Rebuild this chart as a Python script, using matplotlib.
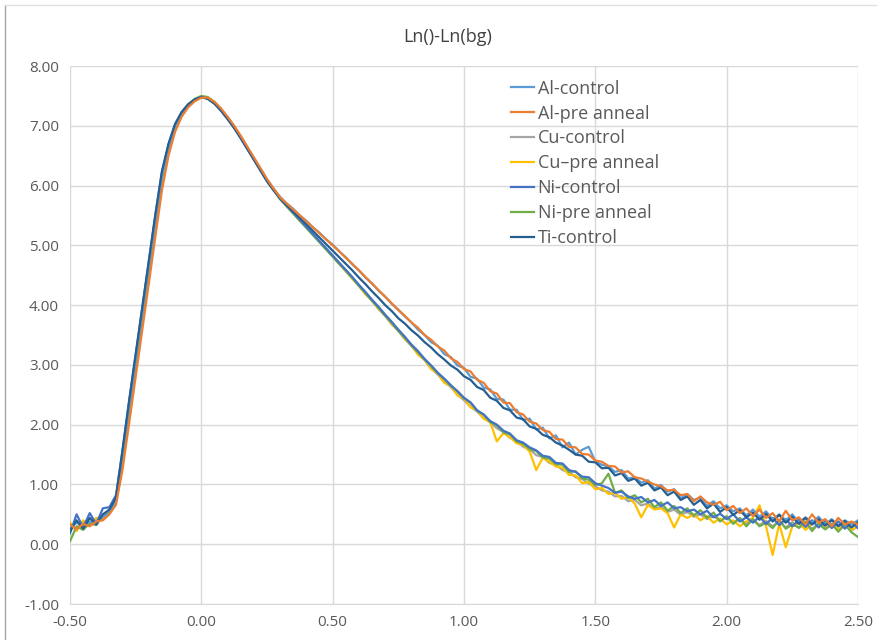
import numpy as np
import matplotlib
matplotlib.use("Agg")
from matplotlib import pyplot as plt
from matplotlib.lines import Line2D

# x grid of the export (step 0.025 from -0.50 to 2.50)
x = np.linspace(-0.5, 2.5, 121)

al_control = [
    0.28, 0.36, 0.30, 0.38, 0.36, 0.46, 0.52, 0.75,
    1.50, 2.30, 3.08, 3.86, 4.64, 5.42, 6.15, 6.64, 6.99, 7.21, 7.35, 7.43,
    7.48, 7.46, 7.38, 7.27, 7.14, 6.99, 6.82, 6.64, 6.46, 6.28, 6.10, 5.95,
    5.81, 5.70, 5.61, 5.50, 5.41, 5.30, 5.21, 5.10, 5.01, 4.90, 4.80, 4.68,
    4.58, 4.46, 4.36, 4.24, 4.14, 4.02, 3.92, 3.81, 3.71, 3.59, 3.50, 3.38,
    3.32, 3.18, 3.13, 2.99, 2.95, 2.80, 2.77, 2.62, 2.59, 2.43, 2.42, 2.25,
    2.25, 2.08, 2.10, 1.92, 1.95, 1.77, 1.82, 1.62, 1.70, 1.50, 1.58, 1.63,
    1.38, 1.33, 1.30, 1.21, 1.24, 1.10, 1.12, 1.03, 1.07, 0.93, 0.99, 0.88,
    0.92, 0.77, 0.84, 0.74, 0.78, 0.64, 0.72, 0.60, 0.65, 0.55, 0.60, 0.48,
    0.58, 0.46, 0.55, 0.41, 0.50, 0.40, 0.50, 0.36, 0.45, 0.36, 0.46, 0.33,
    0.42, 0.31, 0.40, 0.33, 0.40,
]
al_pre = [
    0.33, 0.25, 0.34, 0.30, 0.38, 0.40, 0.50, 0.66,
    1.25, 2.02, 2.80, 3.58, 4.36, 5.15, 5.92, 6.50, 6.90, 7.15, 7.31, 7.41,
    7.47, 7.47, 7.40, 7.29, 7.15, 7.00, 6.83, 6.65, 6.47, 6.29, 6.11, 5.95,
    5.80, 5.70, 5.60, 5.50, 5.40, 5.30, 5.20, 5.10, 5.00, 4.90, 4.79, 4.69,
    4.58, 4.47, 4.36, 4.25, 4.14, 4.03, 3.92, 3.82, 3.71, 3.62, 3.50, 3.42,
    3.31, 3.24, 3.11, 3.05, 2.93, 2.89, 2.75, 2.70, 2.56, 2.52, 2.37, 2.36,
    2.21, 2.17, 2.05, 2.02, 1.91, 1.88, 1.76, 1.75, 1.63, 1.62, 1.51, 1.50,
    1.40, 1.38, 1.31, 1.30, 1.20, 1.22, 1.12, 1.10, 1.05, 1.00, 0.97, 0.90,
    0.91, 0.82, 0.84, 0.72, 0.80, 0.70, 0.66, 0.71, 0.57, 0.64, 0.52, 0.60,
    0.47, 0.58, 0.44, 0.52, 0.38, 0.56, 0.40, 0.45, 0.33, 0.50, 0.36, 0.42,
    0.30, 0.44, 0.33, 0.38, 0.33,
]
cu_control = [
    0.30, 0.27, 0.38, 0.33, 0.42, 0.44, 0.56, 0.74,
    1.44, 2.24, 3.02, 3.80, 4.58, 5.37, 6.11, 6.62, 6.98, 7.20, 7.34, 7.43,
    7.48, 7.46, 7.38, 7.26, 7.12, 6.97, 6.80, 6.62, 6.44, 6.26, 6.08, 5.93,
    5.78, 5.66, 5.54, 5.42, 5.30, 5.18, 5.06, 4.94, 4.82, 4.69, 4.58, 4.45,
    4.32, 4.19, 4.07, 3.94, 3.82, 3.68, 3.57, 3.43, 3.32, 3.18, 3.08, 2.94,
    2.84, 2.71, 2.63, 2.50, 2.41, 2.30, 2.22, 2.11, 2.04, 1.94, 1.88, 1.78,
    1.73, 1.63, 1.59, 1.49, 1.46, 1.36, 1.33, 1.24, 1.21, 1.12, 1.09, 1.01,
    0.97, 0.90, 0.88, 0.80, 0.81, 0.72, 0.74, 0.65, 0.68, 0.59, 0.63, 0.54,
    0.58, 0.49, 0.54, 0.46, 0.50, 0.42, 0.47, 0.39, 0.45, 0.36, 0.43, 0.34,
    0.41, 0.32, 0.39, 0.30, 0.38, 0.28, 0.37, 0.27, 0.35, 0.26, 0.34, 0.25,
    0.33, 0.24, 0.32, 0.23, 0.30,
]
cu_pre = [
    0.36, 0.22, 0.40, 0.31, 0.44, 0.42, 0.58, 0.77,
    1.46, 2.26, 3.04, 3.82, 4.60, 5.38, 6.12, 6.62, 6.98, 7.20, 7.34, 7.43,
    7.48, 7.46, 7.38, 7.27, 7.13, 6.98, 6.81, 6.63, 6.45, 6.27, 6.09, 5.93,
    5.78, 5.66, 5.54, 5.42, 5.30, 5.18, 5.06, 4.94, 4.82, 4.69, 4.57, 4.44,
    4.33, 4.18, 4.08, 3.93, 3.83, 3.68, 3.58, 3.43, 3.33, 3.17, 3.09, 2.93,
    2.86, 2.70, 2.65, 2.49, 2.44, 2.29, 2.24, 2.10, 2.04, 1.72, 1.86, 1.79,
    1.69, 1.66, 1.55, 1.24, 1.45, 1.38, 1.30, 1.28, 1.16, 1.15, 1.02, 1.04,
    0.92, 0.94, 0.84, 0.86, 0.76, 0.79, 0.68, 0.45, 0.66, 0.58, 0.60, 0.52,
    0.28, 0.50, 0.44, 0.50, 0.40, 0.47, 0.36, 0.43, 0.33, 0.40, 0.30, 0.38,
    0.44, 0.65, 0.30, -0.18, 0.34, -0.05, 0.30, 0.36, 0.24, 0.34, 0.40, 0.26,
    0.33, 0.25, 0.35, 0.24, 0.30,
]
ni_control = [
    0.18, 0.50, 0.28, 0.52, 0.34, 0.60, 0.62, 0.82,
    1.56, 2.38, 3.16, 3.94, 4.72, 5.50, 6.22, 6.68, 7.02, 7.22, 7.35, 7.44,
    7.48, 7.45, 7.37, 7.26, 7.12, 6.97, 6.80, 6.62, 6.44, 6.26, 6.08, 5.93,
    5.79, 5.67, 5.55, 5.43, 5.31, 5.19, 5.07, 4.95, 4.83, 4.71, 4.59, 4.47,
    4.34, 4.22, 4.09, 3.97, 3.84, 3.72, 3.59, 3.47, 3.34, 3.23, 3.10, 2.99,
    2.87, 2.77, 2.66, 2.56, 2.45, 2.37, 2.24, 2.17, 2.06, 2.00, 1.90, 1.85,
    1.74, 1.70, 1.62, 1.57, 1.48, 1.46, 1.36, 1.35, 1.24, 1.21, 1.13, 1.12,
    1.02, 0.98, 0.94, 0.86, 0.88, 0.80, 0.76, 0.79, 0.70, 0.74, 0.64, 0.70,
    0.60, 0.62, 0.55, 0.58, 0.50, 0.56, 0.45, 0.51, 0.42, 0.50, 0.38, 0.45,
    0.36, 0.46, 0.34, 0.44, 0.32, 0.42, 0.30, 0.41, 0.29, 0.40, 0.28, 0.39,
    0.27, 0.38, 0.26, 0.37, 0.27,
]
ni_pre = [
    0.05, 0.30, 0.24, 0.35, 0.32, 0.48, 0.53, 0.70,
    1.42, 2.22, 3.00, 3.79, 4.58, 5.38, 6.13, 6.64, 7.00, 7.22, 7.36, 7.45,
    7.50, 7.48, 7.40, 7.28, 7.14, 6.99, 6.82, 6.64, 6.46, 6.28, 6.10, 5.93,
    5.77, 5.65, 5.53, 5.41, 5.29, 5.17, 5.05, 4.93, 4.81, 4.69, 4.57, 4.45,
    4.32, 4.20, 4.07, 3.95, 3.82, 3.70, 3.57, 3.45, 3.32, 3.21, 3.09, 2.98,
    2.86, 2.76, 2.65, 2.56, 2.44, 2.37, 2.23, 2.17, 2.04, 1.99, 1.87, 1.84,
    1.72, 1.68, 1.59, 1.56, 1.45, 1.43, 1.34, 1.33, 1.21, 1.22, 1.10, 1.08,
    0.99, 1.02, 1.18, 0.86, 0.90, 0.77, 0.82, 0.70, 0.76, 0.62, 0.70, 0.56,
    0.64, 0.52, 0.60, 0.48, 0.57, 0.44, 0.53, 0.38, 0.47, 0.34, 0.44, 0.30,
    0.42, 0.30, 0.36, 0.27, 0.41, 0.26, 0.33, 0.28, 0.38, 0.22, 0.35, 0.25,
    0.34, 0.21, 0.33, 0.20, 0.12,
]
ti_control = [
    0.22, 0.40, 0.26, 0.44, 0.33, 0.50, 0.58, 0.78,
    1.58, 2.40, 3.18, 3.96, 4.74, 5.52, 6.24, 6.70, 7.03, 7.23, 7.36, 7.44,
    7.48, 7.45, 7.37, 7.25, 7.11, 6.96, 6.79, 6.61, 6.43, 6.25, 6.07, 5.92,
    5.78, 5.67, 5.56, 5.46, 5.35, 5.24, 5.13, 5.02, 4.91, 4.80, 4.69, 4.58,
    4.46, 4.35, 4.23, 4.12, 4.00, 3.90, 3.78, 3.69, 3.58, 3.49, 3.38, 3.29,
    3.18, 3.09, 2.99, 2.92, 2.81, 2.75, 2.63, 2.58, 2.45, 2.40, 2.28, 2.24,
    2.12, 2.09, 1.97, 1.93, 1.83, 1.79, 1.70, 1.65, 1.58, 1.50, 1.48, 1.38,
    1.37, 1.27, 1.28, 1.15, 1.19, 1.06, 1.10, 0.98, 1.03, 0.90, 0.95, 0.82,
    0.88, 0.74, 0.80, 0.66, 0.74, 0.60, 0.68, 0.54, 0.62, 0.49, 0.57, 0.45,
    0.53, 0.41, 0.51, 0.38, 0.49, 0.36, 0.46, 0.34, 0.44, 0.33, 0.42, 0.31,
    0.40, 0.30, 0.39, 0.28, 0.37,
]

labels = ["Al-control", "Al-pre anneal", "Cu-control", "Cu\u2013pre anneal",
          "Ni-control", "Ni-pre anneal", "Ti-control"]
series = [al_control, al_pre, cu_control, cu_pre, ni_control, ni_pre, ti_control]
colors = ["#5B9BD5", "#ED7D31", "#A5A5A5", "#FFC000", "#4472C4", "#70AD47", "#255E91"]

plt.rcParams["font.family"] = ["Open Sans", "DejaVu Sans"]

fig = plt.figure(figsize=(8.77, 6.40), dpi=100)
ax = fig.add_axes([70 / 877, 1 - 604 / 640, 788 / 877, 538 / 640])

# draw so the lower group sits under the upper group like in the original
order = [2, 3, 5, 4, 0, 6, 1]
for i in order:
    ax.plot(x, series[i], color=colors[i], lw=1.6, solid_joinstyle="round")

ax.set_xlim(-0.5, 2.5)
ax.set_ylim(-1, 8)
ax.set_xticks(np.arange(-0.5, 2.51, 0.5))
ax.set_yticks(np.arange(-1, 8.01, 1))
ax.xaxis.set_major_formatter(matplotlib.ticker.FormatStrFormatter("%.2f"))
ax.yaxis.set_major_formatter(matplotlib.ticker.FormatStrFormatter("%.2f"))
ax.grid(True, color="#D9D9D9", lw=1)
ax.set_axisbelow(True)
for s in ["top", "right", "left"]:
    ax.spines[s].set_visible(False)
ax.spines["bottom"].set_color("#D9D9D9")
ax.tick_params(length=0, labelsize=11, labelcolor="#595959", pad=8)

fig.text(0.51, 0.942, "Ln()-Ln(bg)", ha="center", va="center", fontsize=13, color="#404040")

handles = [Line2D([], [], color=c, lw=1.6) for c in colors]
leg = ax.legend(handles, labels, loc="upper left", bbox_to_anchor=(0.55, 0.988),
                frameon=False, fontsize=13, handlelength=1.27, handletextpad=0.22,
                labelspacing=0.38, borderaxespad=0)
for t in leg.get_texts():
    t.set_color("#595959")

# chart-area border on the left and top edges
fig.add_artist(Line2D([5 / 877, 5 / 877], [0, 1 - 5 / 640], color="#A6A6A6", lw=1))
fig.add_artist(Line2D([5 / 877, 1], [1 - 5 / 640, 1 - 5 / 640], color="#E0E0E0", lw=1))

fig.savefig("out.png", dpi=100)
